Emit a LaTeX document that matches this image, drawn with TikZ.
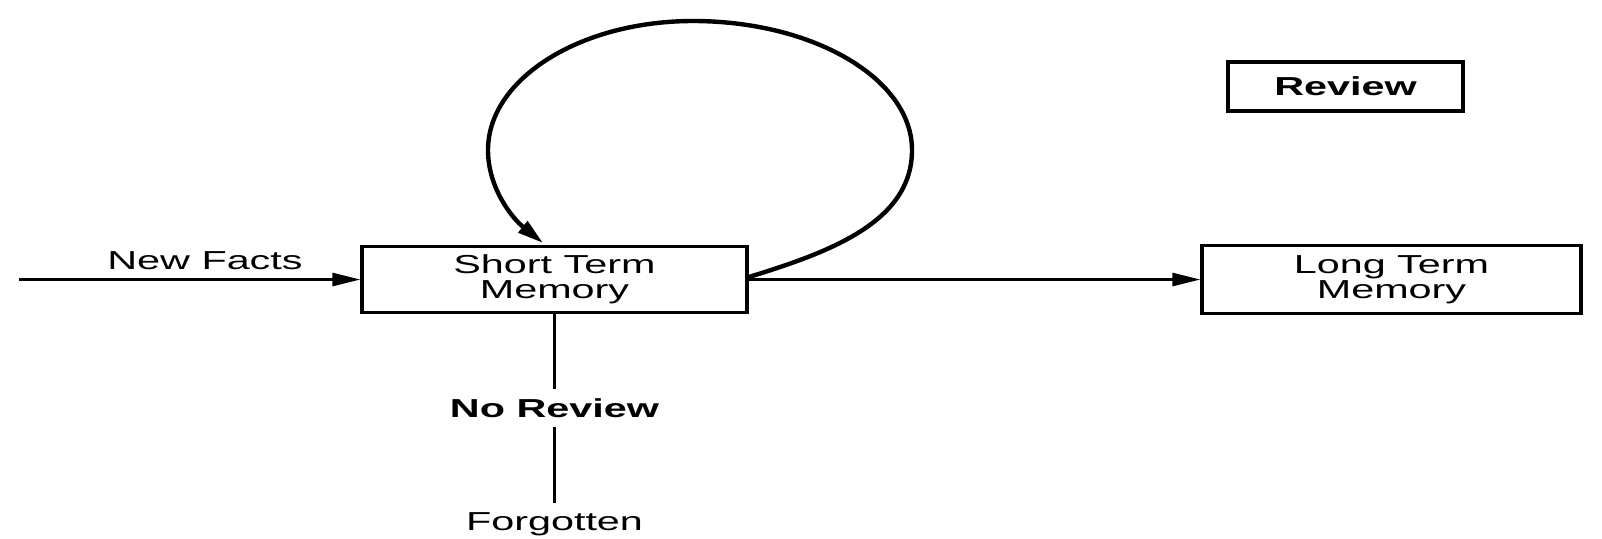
\documentclass[tikz,border=0pt]{standalone}
\usepackage{fontspec}
\usepackage{graphicx}
\setmainfont{Liberation Sans}
\usetikzlibrary{arrows.meta}
\newcommand{\hs}[1]{\scalebox{1.59}[1]{#1}}
\begin{document}
\begin{tikzpicture}[x=0.5pt,y=-0.5pt,
  txt/.style={font=\fontsize{13}{12.5}\selectfont},
  btxt/.style={font=\fontsize{13}{12.5}\selectfont\bfseries},
  box/.style={draw,line width=1.6pt,inner sep=0pt,align=center,txt},
  lbl/.style={inner sep=0pt,anchor=base,txt},
  blbl/.style={inner sep=0pt,anchor=base,btxt},
  arr/.style={line width=1.35pt,-{Triangle[length=14pt,width=6.5pt]}},
  loopline/.style={line width=2.2pt,-{Triangle[length=13pt,width=7pt]}},
  ln/.style={line width=1.5pt}]
\useasboundingbox (0,0) rectangle (1602,538);
\node[box,minimum width=192.5pt,minimum height=33pt] (stm) at (554.5,279.5) {\hs{Short Term}\\\hs{Memory}};
\node[box,minimum width=189.5pt,minimum height=34pt] (ltm) at (1391.5,279.5) {\hs{Long Term}\\\hs{Memory}};
\node[box,minimum width=117.5pt,minimum height=24.5pt,btxt] (rev) at (1345.5,86.5) {\hs{Review}};
\coordinate (start) at (19,279.5);
\node[lbl] (nf) at (205,269) {\hs{New Facts}};
\node[blbl] (nr) at (554.5,417) {\hs{No Review}};
\node[lbl] (fg) at (554.5,530) {\hs{Forgotten}};
\coordinate (cs) at ([yshift=1.2pt]stm.east);
\coordinate (ce) at (543,243);
\draw[arr] (start) -- (stm.west);
\draw[arr] (stm.east) -- (ltm.west);
\draw[loopline] (cs) .. controls (830,252) and (912,222) .. (912,150)
  .. controls (912,79) and (814,21) .. (693,21)
  .. controls (580,21) and (488,79) .. (488,150)
  .. controls (488,188) and (512,218) .. (ce);
\draw[ln] (stm.south) -- ([yshift=4.5pt]nr.north);
\draw[ln] ([yshift=-4.5pt]nr.south) -- ([yshift=4.5pt]fg.north);
\end{tikzpicture}
\end{document}
